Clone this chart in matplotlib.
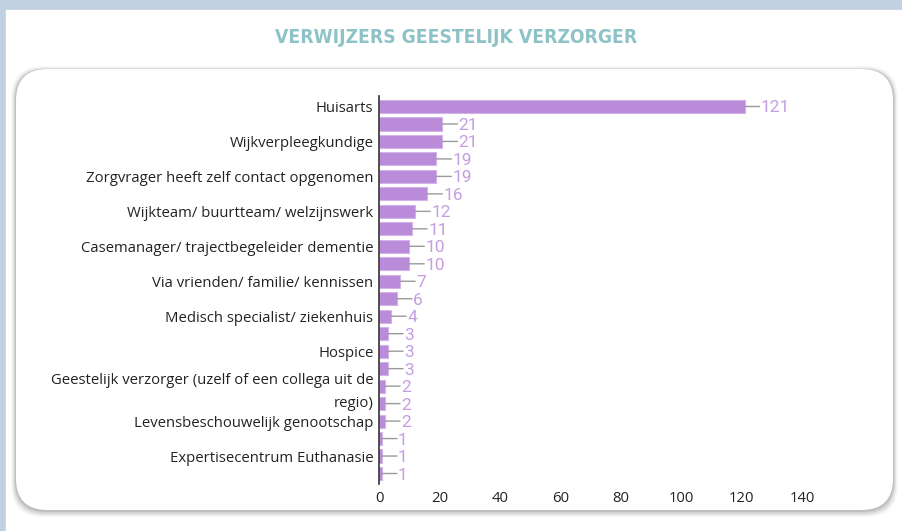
import matplotlib
matplotlib.use("Agg")
import matplotlib.pyplot as plt
from matplotlib.patches import FancyBboxPatch, Rectangle
from matplotlib.transforms import ScaledTranslation

categories = [
    "Huisarts", "", "Wijkverpleegkundige", "", "Zorgvrager heeft zelf contact opgenomen", "",
    "Wijkteam/ buurtteam/ welzijnswerk", "", "Casemanager/ trajectbegeleider dementie", "",
    "Via vrienden/ familie/ kennissen", "", "Medisch specialist/ ziekenhuis", "",
    "Hospice", "", "Geestelijk verzorger (uzelf of een collega uit de\nregio)", "",
    "Levensbeschouwelijk genootschap", "", "Expertisecentrum Euthanasie", "",
]
values = [121, 21, 21, 19, 19, 16, 12, 11, 10, 10, 7, 6, 4, 3, 3, 3, 2, 2, 2, 1, 1, 1]
xticks = [0, 20, 40, 60, 80, 100, 120, 140]
title = "VERWIJZERS GEESTELIJK VERZORGER"

W, H = 902, 531
fig = plt.figure(figsize=(W / 100, H / 100), dpi=100)
fig.patch.set_facecolor("white")

# background frame
fig.add_artist(Rectangle((0, 0), 1, 1, transform=fig.transFigure, color="#c1d1e1", zorder=-10))
fig.add_artist(Rectangle((6 / W, 0), 1, 1 - 10 / H, transform=fig.transFigure, color="white", zorder=-9))

# card with soft shadow
cx0, cy0, cx1, cy1 = 16, 69, 893, 510
for g, dy, a in [(5, 2, 0.025), (4, 2, 0.035), (3, 2, 0.05), (2, 1.5, 0.07), (1, 1, 0.09)]:
    fig.add_artist(FancyBboxPatch(((cx0 - g) / W, (H - cy1 - g - dy) / H), (cx1 - cx0 + 2 * g) / W,
                                  (cy1 - cy0 + 2 * g) / H,
                                  boxstyle="round,pad=0,rounding_size=0.035",
                                  transform=fig.transFigure, facecolor="#000000", alpha=a,
                                  edgecolor="none", zorder=-8, mutation_aspect=W / H))
fig.add_artist(FancyBboxPatch((cx0 / W, (H - cy1) / H), (cx1 - cx0) / W, (cy1 - cy0) / H,
                              boxstyle="round,pad=0,rounding_size=0.035",
                              transform=fig.transFigure, facecolor="white",
                              edgecolor="none", zorder=-7, mutation_aspect=W / H))

fig.text(456 / W, 1 - 37 / H, title, ha="center", va="center", color="#8dc3c7",
         fontsize=13.8, fontweight="bold", family="DejaVu Sans", fontstretch="condensed")

ax_l, ax_r, ax_t, ax_b = 379, 802, 96, 484
ax = fig.add_axes([ax_l / W, 1 - ax_b / H, (ax_r - ax_l) / W, (ax_b - ax_t) / H])
ax.set_facecolor("none")
ypos = list(range(len(values)))
ax.barh(ypos, values, height=0.75, color="#b98bd9", edgecolor="#d2b3ea", lw=0.8)
ax.set_xlim(0, 140)
ax.set_ylim(len(values) - 0.4, -0.6)
ax.set_yticks(ypos)
ax.set_yticklabels(categories, fontsize=10.7, color="#222222", family="Open Sans",
                   linespacing=1.75)
ax.set_xticks(xticks)
ax.set_xticklabels([str(t) for t in xticks], fontsize=10.7, color="#222222", family="Open Sans")
ax.tick_params(length=0)
ax.tick_params(axis="y", pad=4)
ax.tick_params(axis="x", pad=5)
for s in ["top", "right", "bottom"]:
    ax.spines[s].set_visible(False)
ax.spines["left"].set_color("#333333")
ax.spines["left"].set_linewidth(1.2)

off_text = ax.transData + ScaledTranslation(16 / 100, 0, fig.dpi_scale_trans)
for i, v in enumerate(values):
    # leader line from bar end, 15px to the right
    ax.annotate("", xy=(v, i), xytext=(15, 0), textcoords="offset pixels",
                arrowprops=dict(arrowstyle="-", color="#9a9a9a", lw=1, shrinkA=0, shrinkB=0))
    ax.text(v, i, str(v), transform=off_text, ha="left", va="center_baseline",
            color="#c59de3", fontsize=12.5, family="Roboto")

fig.savefig("out.png", dpi=100)
